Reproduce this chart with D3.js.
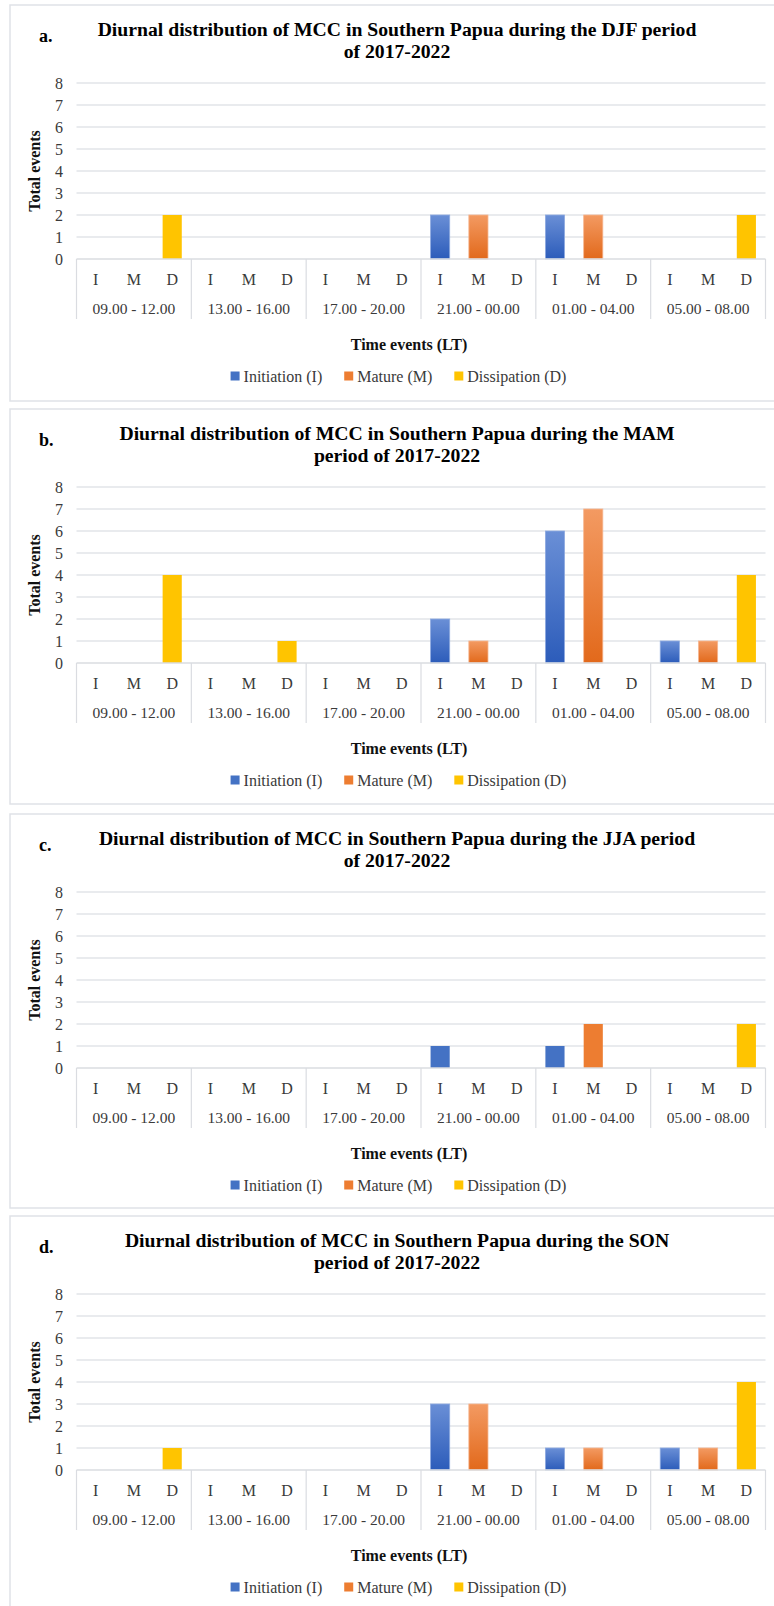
<!DOCTYPE html>
<html>
<head>
<meta charset="utf-8">
<script src="https://cdn.jsdelivr.net/npm/d3@7"></script>
<style>
  html, body { margin: 0; padding: 0; background: #fff; }
  svg { display: block; }
  text { font-family: "Liberation Serif", "Times New Roman", serif; }
</style>
</head>
<body>
<div id="chart"></div>
<script>
// ---------- data ----------
const timeGroups = ["09.00 - 12.00", "13.00 - 16.00", "17.00 - 20.00", "21.00 - 00.00", "01.00 - 04.00", "05.00 - 08.00"];
const stages = ["I", "M", "D"];
const seriesNames = ["Initiation (I)", "Mature (M)", "Dissipation (D)"];
const yTickValues = [0, 1, 2, 3, 4, 5, 6, 7, 8];
const panelLetters = ["a.", "b.", "c.", "d."];
const titleLine1 = [
  "Diurnal distribution of MCC in Southern Papua during the DJF period",
  "Diurnal distribution of MCC in Southern Papua during the MAM",
  "Diurnal distribution of MCC in Southern Papua during the JJA period",
  "Diurnal distribution of MCC in Southern Papua during the SON"
];
const titleLine2 = ["of 2017-2022", "period of 2017-2022", "of 2017-2022", "period of 2017-2022"];
const yAxisTitle = "Total events";
const xAxisTitle = "Time events (LT)";

// DJF
const djfInitiation  = [0, 0, 0, 2, 2, 0];
const djfMature      = [0, 0, 0, 2, 2, 0];
const djfDissipation = [2, 0, 0, 0, 0, 2];
// MAM
const mamInitiation  = [0, 0, 0, 2, 6, 1];
const mamMature      = [0, 0, 0, 1, 7, 1];
const mamDissipation = [4, 1, 0, 0, 0, 4];
// JJA
const jjaInitiation  = [0, 0, 0, 1, 1, 0];
const jjaMature      = [0, 0, 0, 0, 2, 0];
const jjaDissipation = [0, 0, 0, 0, 0, 2];
// SON
const sonInitiation  = [0, 0, 0, 3, 1, 1];
const sonMature      = [0, 0, 0, 3, 1, 1];
const sonDissipation = [1, 0, 0, 0, 0, 4];

const panelData = [
  [djfInitiation, djfMature, djfDissipation],
  [mamInitiation, mamMature, mamDissipation],
  [jjaInitiation, jjaMature, jjaDissipation],
  [sonInitiation, sonMature, sonDissipation]
];

// ---------- layout / style ----------
const W = 774, H = 1606;
const panelTops = [5, 409, 814, 1216];
const panelHeights = [396, 395, 394, 392];
const gradientPanels = [true, true, false, true];
const plotLeft = 76.5, plotRight = 765.5;
const flatColors = ["#4472c4", "#ed7d31", "#ffc400"];
const gradTop = ["#6a8fd6", "#f39a62", "#ffc400"];
const gradBot = ["#2c5cba", "#e2691b", "#ffc400"];
const strokeCols = ["#8eaae0", "#f6b690", "#ffc400"];
const textGray = "#3a3a3a";
const serif = "'Liberation Serif', 'Times New Roman', serif";

const svg = d3.select("#chart").append("svg").attr("width", W).attr("height", H);
const defs = svg.append("defs");
[0, 1].forEach(i => {
  const g = defs.append("linearGradient").attr("id", "grad" + i)
    .attr("x1", 0).attr("y1", 0).attr("x2", 0).attr("y2", 1);
  g.append("stop").attr("offset", "0%").attr("stop-color", gradTop[i]);
  g.append("stop").attr("offset", "100%").attr("stop-color", gradBot[i]);
});

const x0 = d3.scaleBand().domain(timeGroups).range([plotLeft, plotRight]).padding(0);
const x1 = d3.scaleBand().domain(stages).range([0, x0.bandwidth()]).paddingInner(0.5).paddingOuter(0.25);

panelData.forEach((series, p) => {
  const top = panelTops[p];
  const g = svg.append("g");
  const yZero = top + 254, yMax = top + 78;
  const y = d3.scaleLinear().domain([0, 8]).range([yZero, yMax]);

  // panel border
  g.append("rect").attr("x", 10).attr("y", top).attr("width", 790).attr("height", panelHeights[p])
    .attr("fill", "none").attr("stroke", "#dfe2e7").attr("stroke-width", 1.5);

  // panel letter
  g.append("text").attr("x", 39).attr("y", top + 37).attr("font-size", 18).attr("font-weight", "bold")
    .attr("fill", "#000").text(panelLetters[p]);

  // title
  g.append("text").attr("x", 397).attr("y", top + 31).attr("text-anchor", "middle")
    .attr("font-size", 19.7).attr("font-weight", "bold").attr("fill", "#000").text(titleLine1[p]);
  g.append("text").attr("x", 397).attr("y", top + 53).attr("text-anchor", "middle")
    .attr("font-size", 19.7).attr("font-weight", "bold").attr("fill", "#000").text(titleLine2[p]);

  // gridlines
  g.append("g").selectAll("line").data(yTickValues.filter(v => v > 0)).join("line")
    .attr("x1", plotLeft).attr("x2", plotRight)
    .attr("y1", d => y(d)).attr("y2", d => y(d))
    .attr("stroke", "#e2e4e9").attr("stroke-width", 1.3);

  // y axis (labels only)
  const yAxis = d3.axisLeft(y).tickValues(yTickValues).tickSize(0).tickPadding(0).tickFormat(d3.format("d"));
  const ya = g.append("g").attr("transform", `translate(63,0)`).call(yAxis);
  ya.select(".domain").remove();
  ya.attr("font-family", null).attr("font-size", null);
  ya.selectAll("text").style("font-size", "16px").attr("fill", textGray)
    .style("font-family", serif).attr("dy", "0.34em");

  // y axis title
  g.append("text").attr("transform", `translate(40,${top + 166}) rotate(-90)`)
    .attr("text-anchor", "middle").attr("font-size", 16).attr("font-weight", "bold")
    .attr("fill", "#111").text(yAxisTitle);

  // bars
  series.forEach((vals, s) => {
    g.append("g").selectAll("rect").data(vals.map((v, i) => ({ v, grp: timeGroups[i] }))).join("rect")
      .filter(d => d.v > 0)
      .attr("x", d => x0(d.grp) + x1(stages[s]))
      .attr("width", x1.bandwidth())
      .attr("y", d => y(d.v))
      .attr("height", d => y(0) - y(d.v))
      .attr("fill", (gradientPanels[p] && s < 2) ? `url(#grad${s})` : flatColors[s])
      .attr("stroke", (gradientPanels[p] && s < 2) ? strokeCols[s] : "none")
      .attr("stroke-width", 0.8);
  });

  // baseline
  g.append("line").attr("x1", plotLeft).attr("x2", plotRight).attr("y1", yZero).attr("y2", yZero)
    .attr("stroke", "#dadce1").attr("stroke-width", 1.3);

  // category separators
  const bounds = timeGroups.map(t => x0(t)).concat([plotRight]);
  g.append("g").selectAll("line").data(bounds).join("line")
    .attr("x1", d => d).attr("x2", d => d)
    .attr("y1", yZero).attr("y2", top + 314)
    .attr("stroke", "#dadce1").attr("stroke-width", 1.2);

  // stage labels
  timeGroups.forEach(t => {
    g.append("g").selectAll("text").data(stages).join("text")
      .attr("x", d => x0(t) + x1(d) + x1.bandwidth() / 2)
      .attr("y", top + 274).attr("dy", "0.35em").attr("text-anchor", "middle")
      .attr("font-size", 16).attr("fill", textGray).text(d => d);
  });

  // group labels
  g.append("g").selectAll("text").data(timeGroups).join("text")
    .attr("x", d => x0(d) + x0.bandwidth() / 2)
    .attr("y", top + 304).attr("dy", "0.35em").attr("text-anchor", "middle")
    .attr("font-size", 15.5).attr("fill", textGray).text(d => d);

  // x axis title
  g.append("text").attr("x", 409).attr("y", top + 339).attr("dy", "0.35em").attr("text-anchor", "middle")
    .attr("font-size", 16).attr("font-weight", "bold").attr("fill", "#111").text(xAxisTitle);

  // legend
  const leg = g.append("g");
  const items = leg.selectAll("g").data(seriesNames).join("g");
  items.append("rect").attr("width", 9).attr("height", 9).attr("y", top + 371 - 4.5)
    .attr("fill", (d, i) => flatColors[i]);
  items.append("text").attr("x", 13).attr("y", top + 371).attr("dy", "0.35em")
    .attr("font-size", 16).attr("fill", textGray).text(d => d);
  let widths = [];
  items.each(function() { widths.push(13 + d3.select(this).select("text").node().getComputedTextLength()); });
  const gap = 22;
  const total = d3.sum(widths) + gap * (widths.length - 1);
  let cx = 398.5 - total / 2;
  items.each(function(d, i) {
    d3.select(this).attr("transform", `translate(${cx},0)`);
    cx += widths[i] + gap;
  });
});
</script>
</body>
</html>
